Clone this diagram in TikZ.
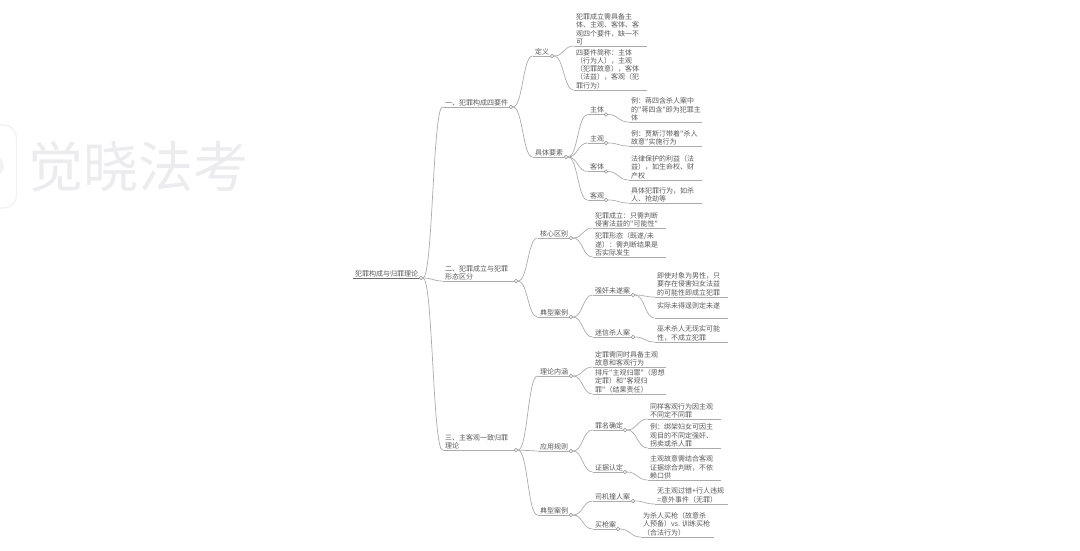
\documentclass[tikz,border=0pt]{standalone}
\usepackage{fontspec}
\newfontfamily\mapfont{Noto Sans CJK SC}
\usepackage{xcolor}
\usetikzlibrary{calc}
\definecolor{mapline}{HTML}{ABABAB}
\definecolor{maptext}{HTML}{575757}
\definecolor{rootline}{HTML}{6A6A6A}
\definecolor{knobline}{HTML}{8C8C8C}
\definecolor{markgray}{HTML}{ECECEF}
\definecolor{logogray}{HTML}{F2F2F4}
\tikzset{
  branchline/.style={mapline, line width=0.7pt},
  rootrule/.style={rootline, line width=0.8pt},
  link/.style={to path={let \p1=(\tikztostart),\p2=(\tikztotarget),\n1={0.5*(\x2-\x1)} in .. controls +(\n1,0) and +(-\n1,0) .. (\tikztotarget)}},
  knob/.style={circle, draw=knobline, fill=white, line width=0.5pt, inner sep=0pt, minimum size=3.6pt},
  topicnode/.style={anchor=south west, align=left, text=maptext, inner xsep=2.5pt, inner ysep=1pt, font=\mapfont\fontsize{7}{8.2}\selectfont},
  marknode/.style={anchor=west, inner sep=0pt, text=markgray, font=\mapfont\fontsize{55}{55}\selectfont}
}
\begin{document}
\begin{tikzpicture}[x=1pt,y=-1pt]
  \useasboundingbox (0,0) rectangle (1080,550);
  \draw[logogray,line width=1.4pt,rounded corners=13pt] (-40,125) rectangle (16.5,208);
  \fill[logogray] (-6,166) circle (10);
  \node[marknode] (mark) at (28.5,167) {觉晓法考};
  % knobs
  \node[knob] (k0) at (421,278) {};
  \node[knob] (k1) at (511,107) {};
  \node[knob] (k2) at (516,281) {};
  \node[knob] (k3) at (516,450) {};
  \node[knob] (k11) at (552,56) {};
  \node[knob] (k12) at (566,157) {};
  \node[knob] (k121) at (606,114.5) {};
  \node[knob] (k122) at (606,143) {};
  \node[knob] (k123) at (606,171.5) {};
  \node[knob] (k124) at (606,200) {};
  \node[knob] (k21) at (571,238) {};
  \node[knob] (k22) at (571,317) {};
  \node[knob] (k221) at (633,295) {};
  \node[knob] (k222) at (633,337) {};
  \node[knob] (k31) at (571,376) {};
  \node[knob] (k32) at (571,451) {};
  \node[knob] (k321) at (625,430) {};
  \node[knob] (k322) at (625,472) {};
  \node[knob] (k33) at (571,515) {};
  \node[knob] (k331) at (633,501) {};
  \node[knob] (k332) at (618,529) {};
  % topics
  \node[topicnode] (t0) at (352.5,278) {犯罪构成与归罪理论};
  \node[topicnode] (t1) at (442.5,107) {一、犯罪构成四要件};
  \node[topicnode] (t2) at (442.5,281) {二、犯罪成立与犯罪\\形态区分};
  \node[topicnode] (t3) at (442.5,450) {三、主客观一致归罪\\理论};
  \node[topicnode] (t11) at (532.5,56) {定义};
  \node[topicnode] (t12) at (532.5,157) {具体要素};
  \node[topicnode] (t121) at (587.5,114.5) {主体};
  \node[topicnode] (t122) at (587.5,143) {主观};
  \node[topicnode] (t123) at (587.5,171.5) {客体};
  \node[topicnode] (t124) at (587.5,200) {客观};
  \node[topicnode] (t21) at (537.5,238) {核心区别};
  \node[topicnode] (t22) at (537.5,317) {典型案例};
  \node[topicnode] (t221) at (592.5,295) {强奸未遂案};
  \node[topicnode] (t222) at (592.5,337) {迷信杀人案};
  \node[topicnode] (t31) at (537.5,376) {理论内涵};
  \node[topicnode] (t32) at (537.5,451) {应用规则};
  \node[topicnode] (t321) at (592.5,430) {罪名确定};
  \node[topicnode] (t322) at (592.5,472) {证据认定};
  \node[topicnode] (t33) at (537.5,515) {典型案例};
  \node[topicnode] (t331) at (592.5,501) {司机撞人案};
  \node[topicnode] (t332) at (592.5,529) {买枪案};
  % leaves
  \node[topicnode] (a1) at (573.5,46) {犯罪成立需具备主\\体、主观、客体、客\\观四个要件，缺一不\\可};
  \node[topicnode] (a2) at (573.5,90) {四要件简称：主体\\（行为人），主观\\（犯罪故意），客体\\（法益），客观（犯\\罪行为）};
  \node[topicnode] (a3) at (628.5,122) {例：蒋四含杀人案中\\的"蒋四含"即为犯罪主\\体};
  \node[topicnode] (a4) at (628.5,146) {例：贾斯汀带着"杀人\\故意"实施行为};
  \node[topicnode] (a5) at (628.5,180) {法律保护的利益（法\\益），如生命权、财\\产权};
  \node[topicnode] (a6) at (628.5,203) {具体犯罪行为，如杀\\人、抢劫等};
  \node[topicnode] (b1) at (592.5,228) {犯罪成立：只需判断\\侵害法益的"可能性"};
  \node[topicnode] (b2) at (592.5,257) {犯罪形态（既遂/未\\遂）：需判断结果是\\否实际发生};
  \node[topicnode] (b3) at (654.5,297) {即使对象为男性，只\\要存在侵害妇女法益\\的可能性即成立犯罪};
  \node[topicnode,inner ysep=9pt] (b4) at (654.5,318) {实际未得逞则定未遂};
  \node[topicnode] (b5) at (654.5,342) {巫术杀人无现实可能\\性，不成立犯罪};
  \node[topicnode] (c1) at (592.5,367) {定罪需同时具备主观\\故意和客观行为};
  \node[topicnode] (c2) at (592.5,394) {排斥"主观归罪"（思想\\定罪）和"客观归\\罪"（结果责任）};
  \node[topicnode] (c3) at (647.5,419) {同样客观行为因主观\\不同定不同罪};
  \node[topicnode] (c4) at (647.5,448) {例：绑架妇女可因主\\观目的不同定强奸、\\拐卖或杀人罪};
  \node[topicnode] (c5) at (647.5,480) {主观故意需结合客观\\证据综合判断，不依\\赖口供};
  \node[topicnode] (c6) at (654.5,504) {无主观过错+行人违规\\=意外事件（无罪）};
  \node[topicnode] (c7) at (640.5,537) {为杀人买枪（故意杀\\人预备）vs. 训练买枪\\（合法行为）};
  % leaf rule ends
  \coordinate (e1) at (647,46);
  \coordinate (e2) at (647,90);
  \coordinate (e3) at (702,122);
  \coordinate (e4) at (702,146);
  \coordinate (e5) at (702,180);
  \coordinate (e6) at (702,203);
  \coordinate (f1) at (666,228);
  \coordinate (f2) at (666,257);
  \coordinate (f3) at (728,297);
  \coordinate (f4) at (728,318);
  \coordinate (f5) at (728,342);
  \coordinate (g1) at (666,367);
  \coordinate (g2) at (666,394);
  \coordinate (g3) at (721,419);
  \coordinate (g4) at (721,448);
  \coordinate (g5) at (721,480);
  \coordinate (g6) at (728,504);
  \coordinate (g7) at (714,537);
  % rules under the topics
  \draw[rootrule] (t0.south west) -- (k0);
  \foreach \n in {1,2,3,11,12,121,122,123,124,21,22,221,222,31,32,321,322,33,331,332}{
    \draw[branchline] (t\n.south west) -- (k\n);
  }
  \foreach \n in {1,...,6}{
    \draw[branchline] (a\n.south west) -- (e\n);
  }
  \foreach \n in {1,...,5}{
    \draw[branchline] (b\n.south west) -- (f\n);
  }
  \foreach \n in {1,...,7}{
    \draw[branchline] (c\n.south west) -- (g\n);
  }
  % connectors
  \foreach \p/\c in {k0/t1,k0/t2,k0/t3,k1/t11,k1/t12,k12/t121,k12/t122,k12/t123,k12/t124,k2/t21,k2/t22,k22/t221,k22/t222,k3/t31,k3/t32,k3/t33,k32/t321,k32/t322,k33/t331,k33/t332,k11/a1,k11/a2,k121/a3,k122/a4,k123/a5,k124/a6,k21/b1,k21/b2,k221/b3,k221/b4,k222/b5,k31/c1,k31/c2,k321/c3,k321/c4,k322/c5,k331/c6,k332/c7}{
    \draw[branchline] (\p.east) to[link] (\c.south west);
  }
\end{tikzpicture}
\end{document}
